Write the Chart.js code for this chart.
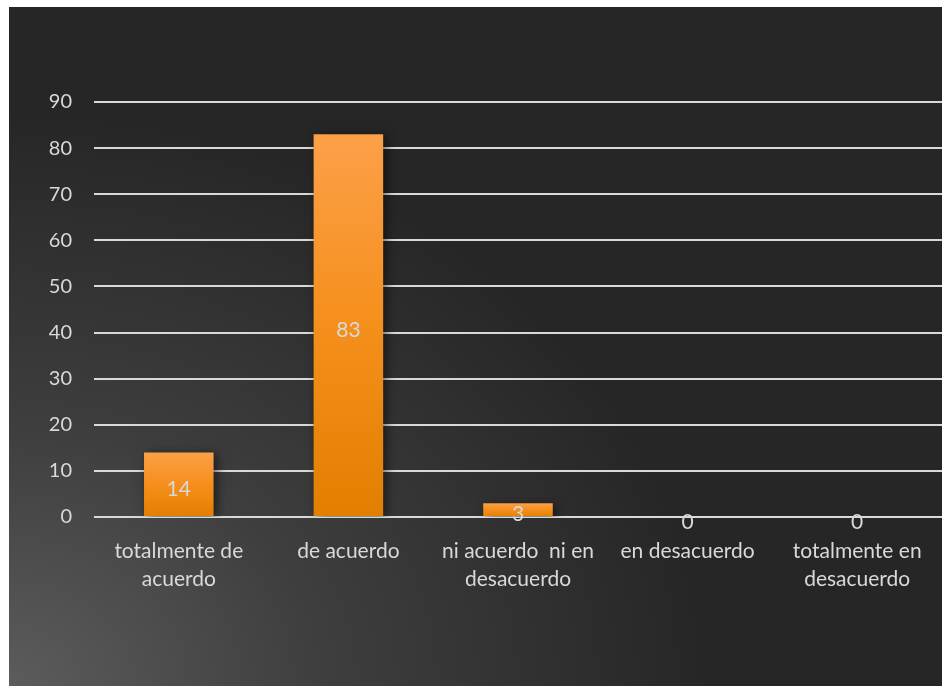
<!DOCTYPE html>
<html>
<head>
<meta charset="utf-8">
<script src="https://cdn.jsdelivr.net/npm/chart.js@4.4.1/dist/chart.umd.min.js"></script>
<style>
  html, body { margin: 0; padding: 0; background: #ffffff; }
  #wrap {
    position: absolute; left: 9px; top: 7px; width: 933px; height: 679px;
    background: radial-gradient(ellipse 75% 85% at 0% 100%, #5c5c5c 0%, #3e3e3e 45%, #262626 100%);
  }
</style>
</head>
<body>
<div id="wrap"><canvas id="chart"></canvas></div>
<script>
const categories = [
  ["totalmente de", "acuerdo"],
  "de acuerdo",
  ["ni acuerdo  ni en", "desacuerdo"],
  "en desacuerdo",
  ["totalmente en", "desacuerdo"],
];
const values = [14, 83, 3, 0, 0];
const yMax = 90;
const yStep = 10;

const textColor = "#d9d9d9";
const fontFamily = "Lato, 'Open Sans', sans-serif";

function barGradient(ctx) {
  const chart = ctx.chart;
  const y = chart.scales.y;
  if (!y || !chart.chartArea) return "#f39020";
  const top = y.getPixelForValue(values[ctx.dataIndex]);
  const base = y.getPixelForValue(0);
  const g = chart.ctx.createLinearGradient(0, top, 0, Math.max(base, top + 1));
  g.addColorStop(0, "#fca048");
  g.addColorStop(0.5, "#f58f1c");
  g.addColorStop(1, "#e27f00");
  return g;
}

const barShadow = {
  id: "barShadow",
  beforeDatasetsDraw(chart) {
    const c = chart.ctx;
    c.save();
    c.shadowColor = "rgba(0,0,0,0.55)";
    c.shadowBlur = 10;
    c.shadowOffsetX = 3;
    c.shadowOffsetY = 2;
  },
  afterDatasetsDraw(chart) {
    chart.ctx.restore();
  },
};

const valueLabels = {
  id: "valueLabels",
  afterDatasetsDraw(chart) {
    const c = chart.ctx;
    const meta = chart.getDatasetMeta(0);
    c.save();
    c.fillStyle = textColor;
    c.font = "21px " + fontFamily;
    c.textAlign = "center";
    c.textBaseline = "middle";
    meta.data.forEach((bar, i) => {
      const cy = (bar.y + bar.base) / 2;
      c.fillText(String(values[i]), bar.x, cy + 5);
    });
    c.restore();
  },
};

new Chart(document.getElementById("chart"), {
  type: "bar",
  data: {
    labels: categories,
    datasets: [{
      data: values,
      backgroundColor: barGradient,
      borderWidth: 0,
      barPercentage: 0.82,
      categoryPercentage: 0.5,
    }],
  },
  options: {
    responsive: true,
    maintainAspectRatio: false,
    animation: false,
    layout: { padding: { top: 95, right: 0, bottom: 0, left: 0 } },
    plugins: {
      legend: { display: false },
      tooltip: { enabled: false },
    },
    scales: {
      x: {
        afterFit(scale) { scale.height = 169; },
        grid: { display: false },
        border: { display: false },
        ticks: {
          color: textColor,
          font: { family: fontFamily, size: 21, lineHeight: 1.33 },
          padding: 12,
          maxRotation: 0,
          autoSkip: false,
        },
      },
      y: {
        min: 0,
        max: yMax,
        afterFit(scale) { scale.width = 85; },
        grid: { color: "#d9d9d9", lineWidth: 2, drawTicks: false },
        border: { display: false },
        ticks: {
          stepSize: yStep,
          color: textColor,
          font: { family: fontFamily, size: 20 },
          padding: 22,
        },
      },
    },
  },
  plugins: [barShadow, valueLabels],
});
</script>
</body>
</html>
